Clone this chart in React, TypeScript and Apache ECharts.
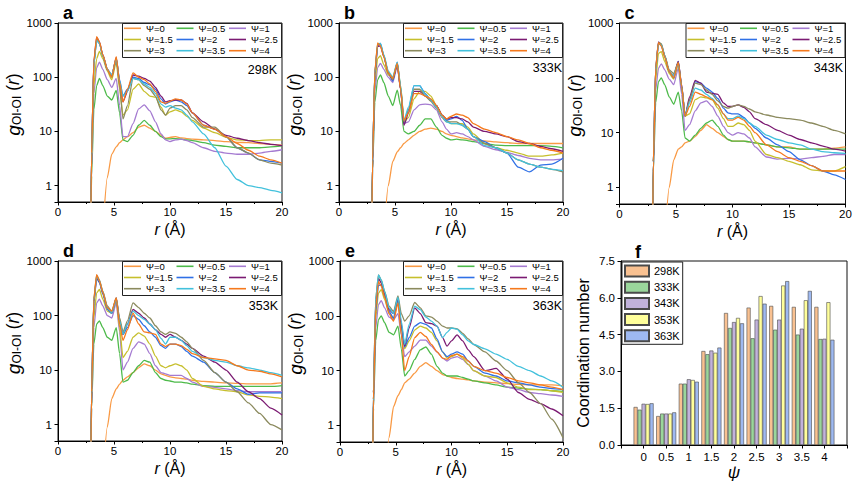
import { useEffect, useRef } from "react";
import * as echarts from "echarts";

const FONT = "'Liberation Sans', Arial, Helvetica, sans-serif";
const N = null;

// radial distance grid (Å) shared by every g(r) curve
const R = [2.9, 3.0, 3.2, 3.45, 3.7, 4.0, 4.4, 4.8, 5.2, 5.5, 5.8, 6.2, 6.7, 7.2, 7.7, 8.2, 8.7, 9.2, 9.6, 10.0, 10.5, 11.0, 11.5, 12, 13, 14, 15, 16, 17, 18, 19, 20];

const PSI = [0, 0.5, 1, 1.5, 2, 2.5, 3, 3.5, 4];
const PSI_NAMES = PSI.map((p) => `Ψ=${p}`);
const PSI_COLORS = ["#F99A45", "#4DBA4A", "#A57BD1", "#C6BF2C", "#2F70E6", "#7B1A72", "#8B8A5E", "#42C1DC", "#F5791D"];
const TEMPS = ["298K", "333K", "343K", "353K", "363K"];
const BAR_COLORS = ["#F9C191", "#9AD69B", "#C1B2DB", "#FFFF9A", "#9EB9F1"];

// g_OI-OI(r) at 298 K, one row per Ψ (0 … 4)
const G298: (number | null)[][] = [
  [N, N, N, N, N, 0.15, 1.4, 3.8, 5.2, 6.2, 7, 8, 9.5, 12, 13, 11.5, 10, 8.5, 7.5, 7.8, 8, 7.6, 7.4, 7.2, 7, 6.8, 6.5, 6.3, 6.2, 6, 5.8, 5.6],
  [0.05, 1.5, 25, 70, 95, 70, 45, 38, 57, 22, 7, 6.5, 8.5, 13, 16, 13, 10, 8, 7.3, 7.3, 7.4, 7.2, 7, 6.8, 6.2, 5.6, 5.3, 5.0, 5.0, 5.0, 5.2, 5.4],
  [0.05, 2, 50, 150, 190, 140, 90, 65, 95, 30, 8, 8, 14, 26, 31, 24, 15, 9, 7, 6.5, 7, 7.2, 6.8, 6.2, 5, 4.3, 4, 3.8, 3.8, 4, 4.3, 4.6],
  [0.05, 3, 70, 220, 300, 220, 130, 90, 190, 60, 20, 25, 60, 75, 55, 45, 43, 28, 20, 23, 25, 23, 19, 16, 11.5, 9.5, 7.8, 7, 6.8, 6.8, 7, 7],
  [0.05, 4, 180, 480, 420, 250, 140, 110, 220, 90, 45, 60, 100, 95, 80, 72, 60, 40, 32, 35, 38, 35, 30, 22, 13, 11, 8, 5, 4, 3, 2.8, 2.6],
  [0.05, 4, 190, 540, 450, 260, 140, 105, 230, 80, 35, 55, 110, 105, 95, 85, 65, 45, 35, 37, 38, 38, 33, 22, 15, 11, 8.5, 7.5, 6.8, 6.2, 5.8, 5.5],
  [0.05, 4, 170, 500, 430, 250, 140, 100, 220, 70, 17, 30, 95, 90, 70, 60, 45, 25, 20, 27, 30, 30, 25, 18, 12, 12, 8, 5, 4, 3, 2.6, 2.4],
  [0.05, 4, 170, 480, 420, 250, 140, 110, 220, 85, 45, 55, 95, 90, 75, 65, 50, 32, 28, 30, 27, 25, 20, 15, 9, 5, 2.3, 1.3, 1.0, 0.92, 0.82, 0.74],
  [0.05, 4, 200, 560, 450, 260, 140, 100, 240, 80, 35, 60, 120, 100, 90, 75, 55, 35, 33, 36, 40, 38, 32, 22, 13, 11, 8, 6, 4.5, 3.5, 3, 2.6],
];

// 333 K
const G333: (number | null)[][] = [
  [N, N, N, N, N, 0.12, 1.0, 2.8, 4.2, 5, 6, 7, 8.5, 10, 11, 11.5, 11, 10, 9, 8.5, 8, 7.6, 7.3, 7, 6.7, 6.4, 6.2, 6, 6, 6, 6, 6],
  [0.05, 2, 35, 90, 110, 80, 45, 30, 58, 30, 10, 9, 10, 13, 17, 17, 12, 8.5, 7.5, 7, 7.2, 7, 6.8, 6.5, 6, 5.6, 5.5, 5.5, 5.5, 5.5, 5.3, 5],
  [0.05, 2, 55, 150, 180, 140, 100, 80, 160, 60, 14, 15, 25, 31, 32, 31, 25, 15, 11, 9, 9.5, 9, 8, 7, 5.3, 4.6, 4.1, 3.6, 3.2, 3, 3, 3.1],
  [0.05, 3, 80, 220, 250, 170, 110, 100, 180, 70, 15, 18, 40, 55, 55, 45, 30, 20, 16, 14, 14, 14, 12, 9, 6, 5, 4.5, 4, 3.5, 3.5, 3.7, 4],
  [0.05, 3, 120, 380, 420, 250, 120, 85, 190, 60, 14, 25, 70, 70, 50, 38, 30, 20, 16, 17, 19, 16, 11, 8, 6.5, 5, 4, 2.2, 1.8, 2.4, 2.5, 3.2],
  [0.05, 3, 110, 370, 380, 240, 120, 90, 170, 60, 13, 22, 55, 55, 45, 38, 30, 20, 17, 18, 18, 17, 15, 12, 10, 9, 8, 6.5, 6, 5.3, 4.8, 4.3],
  [0.05, 3, 120, 400, 400, 250, 120, 90, 180, 65, 15, 25, 60, 60, 45, 36, 27, 18, 15, 15, 15, 13, 11, 8, 6, 5, 4, 3, 2.5, 2.2, 2, 1.8],
  [0.05, 3, 120, 410, 420, 260, 130, 100, 190, 70, 16, 28, 70, 70, 48, 38, 28, 19, 15, 14, 14, 13, 11, 8, 5.5, 5, 4, 3, 2.5, 2.2, 2, 1.9],
  [0.05, 3, 130, 430, 380, 240, 120, 95, 180, 60, 16, 22, 50, 50, 45, 40, 30, 20, 17, 19, 21, 20, 18, 14, 11, 9.5, 8, 7, 6, 5, 4.5, 4],
];

// 343 K
const G343: (number | null)[][] = [
  [N, N, N, N, N, 0.12, 1.0, 3.2, 5, 5.5, 6.5, 7, 8.5, 11, 14, 12, 10, 8.5, 7.5, 7, 7, 7, 6.8, 6.5, 6, 5.5, 5.5, 5, 5, 5, 5.2, 5.5],
  [0.05, 2, 35, 85, 100, 75, 45, 33, 55, 25, 8, 7, 9, 12, 15, 17, 13, 9, 7.5, 7, 7, 7, 6.8, 6.5, 6, 5.5, 5.3, 5, 5, 5, 5, 5],
  [0.05, 2, 60, 150, 180, 140, 95, 75, 150, 50, 11, 14, 25, 35, 38, 30, 20, 13, 10, 9, 10, 9.5, 8, 5.5, 3.6, 3.3, 3.4, 3.3, 3.5, 3.7, 4, 4],
  [0.05, 3, 90, 280, 300, 200, 120, 95, 180, 70, 20, 22, 40, 45, 43, 40, 28, 18, 13, 13, 15, 14, 11, 7, 4, 3.5, 3, 2.6, 2.1, 2, 2, 2.4],
  [0.05, 3, 140, 420, 400, 250, 130, 100, 200, 70, 20, 40, 85, 80, 65, 55, 42, 28, 23, 22, 22, 19, 15, 12, 8, 6, 4.5, 3.2, 2.5, 2, 1.7, 1.4],
  [0.05, 3, 150, 450, 400, 250, 130, 110, 200, 75, 20, 45, 90, 80, 55, 52, 50, 35, 30, 30, 32, 29, 24, 18, 14, 11, 9, 7.5, 6.5, 5.7, 5, 4.6],
  [0.05, 3, 150, 440, 420, 260, 140, 120, 190, 70, 20, 40, 80, 75, 60, 50, 38, 30, 28, 30, 32, 30, 27, 24, 21, 19, 18, 17, 15, 13, 11, 9.5],
  [0.05, 3, 140, 420, 400, 250, 130, 110, 180, 70, 20, 35, 65, 60, 50, 42, 32, 22, 18, 18, 20, 18, 15, 13, 9, 7.5, 6.5, 6, 5, 4.5, 4.3, 4.2],
  [0.05, 3, 150, 440, 380, 240, 130, 100, 190, 70, 20, 30, 55, 50, 45, 40, 32, 22, 17, 17, 19, 17, 13, 10, 6, 4.5, 3.5, 3, 2.5, 2, 2, 2],
];

// 353 K
const G353: (number | null)[][] = [
  [N, N, N, N, N, 0.1, 0.9, 3, 4.5, 5.5, 6.5, 7.5, 9, 11, 13, 12, 10, 8.5, 8, 7.5, 7.2, 7, 6.8, 6.5, 6.2, 6, 5.8, 5.7, 5.6, 5.6, 5.6, 5.8],
  [0.05, 2, 30, 70, 80, 60, 40, 35, 60, 20, 6, 6.5, 9, 12, 15, 14, 9, 7, 6.5, 6.3, 6, 6, 5.8, 5.5, 5.2, 5, 5, 5, 5, 5, 5, 5.2],
  [0.05, 2, 60, 170, 200, 150, 100, 90, 170, 50, 10, 14, 25, 33, 30, 20, 12, 9, 8.5, 8, 8, 8, 7, 6, 5, 4.8, 4.5, 4.2, 4, 4, 4, 4],
  [0.05, 3, 90, 260, 300, 200, 120, 110, 190, 60, 17, 22, 40, 48, 42, 30, 18, 12, 11, 12, 13, 12, 10, 7, 5, 4.5, 4.2, 4, 3.5, 3.3, 3.2, 3],
  [0.05, 4, 170, 480, 400, 250, 130, 110, 200, 80, 45, 60, 100, 85, 65, 50, 40, 28, 25, 30, 30, 27, 22, 18, 14, 9, 6, 4.5, 3.6, 3.8, 3.8, 3.8],
  [0.05, 4, 180, 500, 420, 260, 140, 110, 210, 80, 45, 70, 130, 110, 90, 70, 55, 45, 40, 45, 40, 35, 30, 25, 18, 14, 10, 6, 4, 3, 2, 1.5],
  [0.05, 4, 200, 550, 450, 280, 150, 120, 210, 90, 50, 80, 170, 140, 110, 90, 65, 50, 45, 50, 47, 40, 33, 25, 15, 9, 6, 4, 2.5, 1.6, 1.0, 0.8],
  [0.05, 4, 190, 520, 430, 270, 140, 110, 200, 80, 45, 70, 120, 100, 85, 70, 55, 38, 30, 40, 40, 35, 28, 22, 17, 15, 14, 12, 11, 10, 9, 8],
  [0.05, 4, 200, 560, 430, 270, 140, 120, 210, 70, 35, 55, 110, 70, 50, 48, 45, 30, 27, 30, 30, 28, 24, 20, 17, 16, 15, 12, 10, 9.5, 8.5, 7.5],
];

// 363 K
const G363: (number | null)[][] = [
  [N, N, N, N, N, 0.08, 0.6, 2.2, 3.5, 4.5, 6, 7, 9, 12, 14, 12, 10, 8.5, 8, 7.5, 7.2, 7, 6.8, 6.5, 6.2, 6, 5.8, 5.6, 5.5, 5.5, 5.5, 5.3],
  [0.05, 2, 35, 85, 100, 75, 50, 45, 65, 25, 8, 10, 16, 24, 27, 20, 12, 9, 8, 8, 8, 7.5, 7, 6.5, 6, 5.5, 5, 4.8, 4.6, 4.5, 4.3, 4.2],
  [0.05, 2, 60, 160, 190, 140, 95, 85, 110, 45, 18, 22, 28, 36, 36, 28, 22, 17, 15, 17, 18, 16, 13, 10, 8, 6.5, 5, 4.5, 4, 3.8, 3.6, 3.4],
  [0.05, 3, 90, 260, 300, 200, 110, 90, 190, 60, 25, 35, 55, 65, 60, 50, 35, 22, 17, 18, 20, 17, 13, 10, 8, 7.5, 6, 5, 4.5, 4.5, 4.3, 4],
  [0.05, 3, 120, 360, 370, 230, 120, 90, 200, 65, 27, 40, 65, 75, 70, 60, 38, 22, 18, 20, 22, 20, 15, 12, 9, 8, 6.5, 6, 5.5, 5, 4.7, 4.5],
  [0.05, 4, 170, 480, 400, 250, 130, 110, 210, 70, 28, 60, 140, 110, 75, 72, 65, 40, 28, 35, 45, 35, 24, 18, 10, 11, 7, 4, 3, 2.5, 2, 1.5],
  [0.05, 4, 200, 560, 450, 280, 150, 120, 230, 110, 80, 100, 175, 140, 100, 95, 80, 65, 60, 60, 58, 48, 38, 30, 22, 15, 10, 6, 4, 2.5, 1.3, 0.6],
  [0.05, 4, 200, 560, 450, 280, 140, 110, 220, 80, 30, 70, 150, 130, 95, 80, 65, 40, 50, 60, 57, 45, 35, 30, 25, 20, 16, 12, 10, 8, 6.5, 5],
  [0.05, 3, 140, 420, 350, 220, 110, 80, 170, 45, 10, 18, 40, 50, 42, 30, 22, 17, 16, 19, 20, 18, 15, 12, 10, 9, 7.5, 6.5, 6, 5.5, 5, 4.5],
];

// coordination numbers per Ψ, one list per temperature
const CN_298 = [1.55, 1.18, 2.5, 3.83, 5.38, 5.6, 5.67, 5.63, 5.63];
const CN_333 = [1.44, 1.28, 2.5, 3.7, 4.77, 4.35, 4.7, 4.5, 4.32];
const CN_343 = [1.68, 1.28, 2.68, 3.85, 5.01, 5.11, 5.11, 4.74, 4.33];
const CN_353 = [1.67, 1.28, 2.65, 3.76, 5.18, 6.07, 6.5, 5.9, 5.82];
const CN_363 = [1.7, 1.33, 2.58, 3.97, 4.96, 5.76, 6.68, 6.28, 4.29];
const CN = [CN_298, CN_333, CN_343, CN_353, CN_363];

const RDF_PANELS = [
  { letter: "a", data: G298, left: 58, top: 23, width: 224, height: 179, tempX: 277, tempY: 69.5 },
  { letter: "b", data: G333, left: 339, top: 23, width: 224, height: 179, tempX: 562, tempY: 68 },
  { letter: "c", data: G343, left: 619.5, top: 23, width: 226, height: 181, tempX: 843, tempY: 68 },
  { letter: "d", data: G353, left: 58, top: 261, width: 224, height: 180, tempX: 278, tempY: 306 },
  { letter: "e", data: G363, left: 340, top: 261, width: 223, height: 181, tempX: 562, tempY: 306 },
];
const BAR_GRID = { left: 621, top: 261, width: 226, height: 184 };

// legend box geometry inside each g(r) panel: 3 columns × 3 rows
const LEG_W = 160;
const LEG_H = 34;
const LEG_COL = 52.5;
const LEG_ROW = 11.2;

const AXIS_LINE = { onZero: false, lineStyle: { color: "#000", width: 1 } };
const TICK_STYLE = { color: "#000", width: 1 };

function buildOption() {
  const grid: any[] = [];
  const xAxis: any[] = [];
  const yAxis: any[] = [];
  const series: any[] = [];
  const legend: any[] = [];
  const elements: any[] = [];

  RDF_PANELS.forEach((p, k) => {
    grid.push({
      left: p.left, top: p.top, width: p.width, height: p.height,
      show: true, borderColor: "#111", borderWidth: 1, backgroundColor: "transparent",
    });
    xAxis.push({
      type: "value", gridIndex: k, min: 0, max: 20, interval: 5,
      name: "{i|r} (Å)", nameLocation: "middle", nameGap: 19,
      nameTextStyle: {
        fontSize: 16, fontFamily: FONT, color: "#000",
        rich: { i: { fontStyle: "italic", fontSize: 16, fontFamily: FONT, color: "#000" } },
      },
      axisLine: AXIS_LINE,
      axisTick: { inside: false, length: 3.5, lineStyle: TICK_STYLE },
      minorTick: { show: true, splitNumber: 2, length: 2, lineStyle: TICK_STYLE },
      axisLabel: { fontSize: 11.5, fontFamily: FONT, color: "#000", margin: 3.5 },
      splitLine: { show: false },
    });
    yAxis.push({
      type: "log", logBase: 10, gridIndex: k, min: 0.5, max: 1000,
      name: "{g|g}{s|OI-OI} ({r|r})", nameLocation: "middle", nameGap: 34, nameRotate: 90,
      nameTextStyle: {
        fontSize: 17.5, fontFamily: FONT, color: "#000", padding: [0, 0, 0, 16],
        rich: {
          g: { fontStyle: "italic", fontSize: 19, fontFamily: FONT, color: "#000" },
          s: { fontSize: 12, fontFamily: FONT, color: "#000", verticalAlign: "bottom", lineHeight: 12 },
          r: { fontStyle: "italic", fontSize: 17.5, fontFamily: FONT, color: "#000" },
        },
      },
      axisLine: AXIS_LINE,
      axisTick: { inside: false, length: 3.5, lineStyle: TICK_STYLE },
      axisLabel: {
        fontSize: 11.5, fontFamily: FONT, color: "#000", margin: 6,
        formatter: (v: number) => (v >= 0.99 ? String(Math.round(v)) : ""),
      },
      splitLine: { show: false },
    });
    PSI_NAMES.forEach((name, j) => {
      const pts = R.map((r, i) => [r, p.data[j][i]]).filter((d) => d[1] != null);
      series.push({
        type: "line", name, xAxisIndex: k, yAxisIndex: k, data: pts,
        showSymbol: false, symbol: "none", smooth: 0.2, smoothMonotone: "x", clip: true,
        lineStyle: { color: PSI_COLORS[j], width: 1.3 },
        itemStyle: { color: PSI_COLORS[j] },
        emphasis: { disabled: true },
      });
    });

    // legend: one single-item legend per entry, laid out row by row
    const lx = p.left + p.width - LEG_W;
    PSI_NAMES.forEach((name, j) => {
      const row = Math.floor(j / 3);
      const col = j % 3;
      legend.push({
        left: lx + 2 + col * LEG_COL,
        top: p.top + 5.3 + row * LEG_ROW - 5,
        data: [name], icon: "rect", itemWidth: 17, itemHeight: 1.6,
        padding: 0, selectedMode: false,
        textStyle: { fontSize: 9.5, fontFamily: FONT, color: "#000", lineHeight: 10 },
      });
    });
    elements.push({
      type: "rect", z: 3,
      shape: { x: lx + 0.5, y: p.top + 0.5, width: LEG_W - 1, height: LEG_H },
      style: { fill: "none", stroke: "#222", lineWidth: 1 },
    });
    elements.push({
      type: "text", x: p.left + 5, y: p.top - 10.5,
      style: { text: p.letter, fontSize: 18, fontWeight: "bold", fontFamily: FONT, fill: "#000", verticalAlign: "middle" },
    });
    elements.push({
      type: "text", x: p.tempX, y: p.tempY,
      style: { text: TEMPS[k], fontSize: 12.5, fontFamily: FONT, fill: "#000", align: "right", verticalAlign: "middle" },
    });
  });

  // panel f: coordination number bars
  const b = RDF_PANELS.length;
  grid.push({ ...BAR_GRID, show: true, borderColor: "#111", borderWidth: 1, backgroundColor: "transparent" });
  xAxis.push({
    type: "value", gridIndex: b, min: -0.5, max: 4.5, interval: 0.5,
    name: "{i|ψ}", nameLocation: "middle", nameGap: 19,
    nameTextStyle: {
      fontSize: 17, fontFamily: FONT, color: "#000",
      rich: { i: { fontStyle: "italic", fontSize: 17, fontFamily: FONT, color: "#000" } },
    },
    axisLine: AXIS_LINE,
    axisTick: { inside: false, length: 3.5, lineStyle: TICK_STYLE },
    axisLabel: {
      fontSize: 11.5, fontFamily: FONT, color: "#000", margin: 6,
      formatter: (v: number) => (v < -0.01 || v > 4.01 ? "" : String(v)),
    },
    splitLine: { show: false },
  });
  yAxis.push({
    type: "value", gridIndex: b, min: 0, max: 7.5, interval: 1.5,
    name: "Coordination number", nameLocation: "middle", nameGap: 30, nameRotate: 90,
    nameTextStyle: { fontSize: 16, fontFamily: FONT, color: "#000" },
    axisLine: AXIS_LINE,
    axisTick: { inside: false, length: 3.5, lineStyle: TICK_STYLE },
    axisLabel: {
      fontSize: 11.5, fontFamily: FONT, color: "#000", margin: 6,
      formatter: (v: number) => v.toFixed(1),
    },
    splitLine: { show: false },
  });
  TEMPS.forEach((t, k) => {
    series.push({
      type: "bar", name: t, xAxisIndex: b, yAxisIndex: b,
      data: PSI.map((p, i) => [p, CN[k][i]]),
      barWidth: 4, barGap: "0%",
      itemStyle: { color: BAR_COLORS[k], borderColor: "#4a4a4a", borderWidth: 0.6 },
      emphasis: { disabled: true },
    });
  });
  legend.push({
    orient: "vertical", left: BAR_GRID.left + 1, top: BAR_GRID.top + 1,
    data: TEMPS, icon: "rect", itemWidth: 24, itemHeight: 11, itemGap: 3.2,
    padding: [2.5, 3, 2, 2], borderColor: "#222", borderWidth: 1, backgroundColor: "#fff",
    textStyle: { fontSize: 11, fontFamily: FONT, color: "#000", lineHeight: 11 },
    selectedMode: false,
  });
  elements.push({
    type: "text", x: 635, y: 252,
    style: { text: "f", fontSize: 18, fontWeight: "bold", fontFamily: FONT, fill: "#000", verticalAlign: "middle" },
  });

  return {
    animation: false,
    backgroundColor: "#fff",
    textStyle: { fontFamily: FONT },
    grid, xAxis, yAxis, series, legend,
    graphic: { elements },
  };
}

export default function App() {
  const ref = useRef<HTMLDivElement>(null);
  useEffect(() => {
    document.body.style.margin = "0";
    if (!ref.current) return;
    const chart = echarts.init(ref.current, null, { renderer: "svg" });
    chart.setOption(buildOption() as any);
    return () => chart.dispose();
  }, []);
  return <div ref={ref} style={{ width: 859, height: 488 }} />;
}
